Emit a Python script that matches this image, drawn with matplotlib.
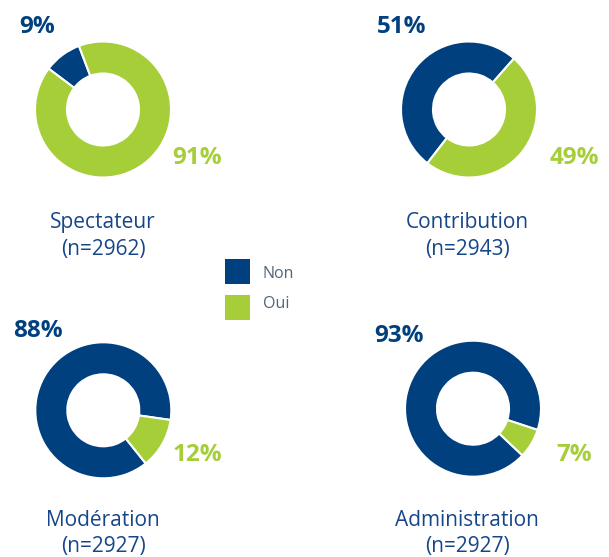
import matplotlib
matplotlib.use("Agg")
import matplotlib.pyplot as plt

# ---- data ----
categories = ["Spectateur", "Contribution", "Modération", "Administration"]
n_values = [2962, 2943, 2927, 2927]
non_pct = [9, 51, 88, 93]
oui_pct = [91, 49, 12, 7]
series_names = ["Non", "Oui"]

BLUE = "#00407E"
GREEN = "#A6CE39"
TITLE_COLOR = "#16468A"
LEGEND_TEXT = "#4F6679"

W, H = 609, 557
fig = plt.figure(figsize=(W / 100, H / 100), dpi=100)
ax = fig.add_axes([0, 0, 1, 1])

# layout (image pixel coords: x right, y down)
centers = [(103, 109.5), (469, 109.5), (103.3, 410.3), (473, 408.7)]
start_angles = [110.7, 48.6, -8.2, -18.2]
radius = 68
ring = 32
non_label_pos = [(37, 27), (402, 27), (37.5, 331), (399, 336)]
oui_label_pos = [(197, 158), (574, 158), (197, 455), (574, 455)]
title_x = [103, 467, 103, 467]
title_base = [(228, 255), (228, 255), (526, 552), (526, 552)]

for i, cat in enumerate(categories):
    cx, cy = centers[i]
    ax.pie([non_pct[i], oui_pct[i]], colors=[BLUE, GREEN],
           startangle=start_angles[i], counterclock=True,
           center=(cx, H - cy), radius=radius,
           wedgeprops=dict(width=ring, edgecolor="white", linewidth=1.5))
    x, y = non_label_pos[i]
    ax.text(x, H - y, f"{non_pct[i]}%", color=BLUE, fontsize=17.5,
            fontweight="bold", ha="center", va="center", family="Open Sans")
    x, y = oui_label_pos[i]
    ax.text(x, H - y, f"{oui_pct[i]}%", color=GREEN, fontsize=17.5,
            fontweight="bold", ha="center", va="center", family="Open Sans")
    b1, b2 = title_base[i]
    ax.text(title_x[i], H - b1, cat, color=TITLE_COLOR, fontsize=15,
            ha="center", va="baseline", family="Open Sans")
    ax.text(title_x[i], H - b2, f"(n={n_values[i]})", color=TITLE_COLOR,
            fontsize=15, ha="center", va="baseline", family="Open Sans")

# legend
leg_items = [(series_names[0], BLUE, 271.5, 273.7),
             (series_names[1], GREEN, 307.5, 304.5)]
for name, col, yc, yt in leg_items:
    ax.add_patch(plt.Rectangle((225, H - yc - 12.5), 25, 25, color=col, lw=0))
    ax.text(263, H - yt, name, color=LEGEND_TEXT, fontsize=11.5,
            ha="left", va="center", family="Open Sans")

ax.set_xlim(0, W)
ax.set_ylim(0, H)
ax.set_aspect("equal")
ax.axis("off")
fig.savefig("out.png", dpi=100)
